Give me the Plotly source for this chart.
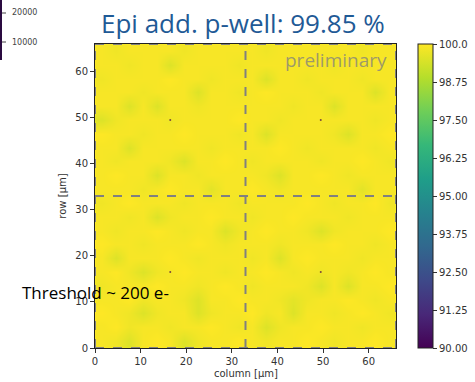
import plotly.graph_objects as go

# ---------------- data ----------------
pitch = 3.0
n_cols = 22
n_rows = 22
col_centers = [pitch / 2 + pitch * j for j in range(n_cols)]
row_centers = [pitch / 2 + pitch * i for i in range(n_rows)]

# efficiency [%], rows listed bottom (row 0) to top
efficiency = [
    [99.9,99.8,99.5,99.9,100.0,99.9,99.5,99.8,99.9,99.9,100.0,99.9,99.8,99.9,99.9,100.0,99.9,99.8,99.9,99.9,100.0,99.9],
    [99.9,100.0,99.8,99.9,99.9,99.8,99.9,99.9,100.0,99.9,99.8,99.9,99.5,99.8,99.9,99.9,100.0,99.9,99.9,99.8,99.9,99.9],
    [100.0,99.9,99.8,99.5,99.8,99.9,99.9,99.5,99.8,99.9,99.9,100.0,99.8,99.9,99.5,99.9,99.9,99.8,99.9,100.0,99.9,99.8],
    [99.9,99.9,100.0,99.8,99.9,99.9,99.8,99.5,99.9,99.9,100.0,99.9,99.9,99.8,99.6,99.8,99.9,99.9,100.0,99.9,99.8,99.9],
    [99.8,99.9,99.9,99.9,100.0,99.9,99.9,99.8,99.9,100.0,99.9,99.8,99.9,99.9,99.9,99.8,99.5,99.9,99.5,99.9,99.9,100.0],
    [99.9,100.0,99.8,99.5,99.8,99.9,100.0,99.9,99.9,99.8,99.9,99.9,100.0,99.9,99.8,99.9,99.8,99.9,99.8,99.9,100.0,99.9],
    [99.9,99.5,99.9,99.9,99.9,100.0,99.9,99.8,99.9,99.9,99.9,99.8,99.9,99.5,99.9,100.0,99.9,99.9,99.9,99.8,99.9,99.9],
    [100.0,99.9,99.9,99.8,99.9,99.9,99.9,100.0,99.9,99.8,99.9,99.9,99.9,99.8,99.9,99.9,99.9,100.0,99.9,99.9,99.8,99.9],
    [99.9,99.8,99.9,99.9,100.0,99.9,99.8,99.9,99.9,99.5,99.8,99.9,100.0,99.9,99.9,99.8,99.5,99.8,99.9,99.9,99.9,100.0],
    [99.9,99.9,99.8,99.9,99.5,99.8,99.9,99.9,100.0,99.9,99.9,99.8,99.9,99.9,100.0,99.9,99.9,99.9,99.8,99.9,99.9,99.9],
    [99.8,99.9,100.0,99.9,99.9,99.9,99.8,99.9,99.9,99.9,99.8,99.9,99.9,99.9,99.9,100.0,99.9,99.8,99.9,99.9,100.0,99.8],
    [99.9,99.9,99.9,99.8,99.9,100.0,99.9,99.9,99.6,99.9,99.9,100.0,99.9,99.8,99.9,99.9,99.9,99.9,99.9,99.6,99.9,99.9],
    [99.9,100.0,99.9,99.9,99.5,99.9,99.9,99.8,99.9,99.9,99.9,99.9,99.8,99.5,99.9,99.9,100.0,99.9,99.8,99.9,99.9,99.9],
    [99.9,99.8,99.9,99.9,99.9,99.8,99.5,99.9,99.9,100.0,99.9,99.8,99.9,99.9,99.9,99.9,99.8,99.9,99.9,100.0,99.9,99.8],
    [99.9,99.9,99.5,99.9,99.9,99.9,99.9,99.9,99.8,99.9,99.9,99.9,99.9,100.0,99.9,99.8,99.9,99.9,99.9,99.9,99.8,99.9],
    [100.0,99.9,99.9,99.8,99.9,99.9,100.0,99.9,99.9,99.9,99.8,99.9,99.5,99.9,99.9,99.9,99.9,99.8,99.5,99.9,99.9,100.0],
    [99.5,99.8,99.9,99.9,99.9,99.8,99.9,99.9,99.9,99.9,100.0,99.9,99.9,99.8,99.9,99.9,99.9,99.9,99.9,99.9,99.8,99.9],
    [99.9,99.9,99.5,99.9,99.5,99.9,99.9,99.8,99.9,99.9,99.9,99.9,99.9,99.9,99.8,99.9,99.9,99.5,99.9,99.9,99.9,99.9],
    [99.9,99.9,99.9,99.8,99.9,99.9,99.9,99.5,99.9,99.9,99.8,99.9,100.0,99.9,99.9,99.9,99.8,99.9,99.9,99.9,99.5,99.9],
    [99.8,99.9,99.9,99.9,99.9,100.0,99.9,99.9,99.8,99.9,99.9,99.9,99.5,99.9,99.9,99.8,99.9,99.9,99.9,99.8,99.9,99.9],
    [99.9,99.9,99.8,99.9,99.9,99.5,99.9,99.9,99.9,99.9,99.8,99.9,99.9,99.9,99.9,99.9,99.9,99.8,99.9,99.9,99.9,99.9],
    [99.9,99.8,99.9,99.9,99.9,99.9,99.8,99.9,99.9,99.9,99.9,99.9,99.8,99.9,99.9,99.9,99.9,99.9,99.9,99.8,99.9,99.9],
]

matrix_extent = [0, 66]
sector_edges = [0, 33, 66]
marker_x = [16.5, 49.5, 16.5, 49.5]
marker_y = [49.5, 49.5, 16.5, 16.5]

x_ticks = [0, 10, 20, 30, 40, 50, 60]
y_ticks = [0, 10, 20, 30, 40, 50, 60]
cbar_ticks = [90.0, 91.25, 92.5, 93.75, 95.0, 96.25, 97.5, 98.75, 100.0]
cbar_labels = ["90.00", "91.25", "92.50", "93.75", "95.00", "96.25", "97.50", "98.75", "100.0"]

title_text = "Epi add. p-well: 99.85 %"
threshold_text = "Threshold ~ 200 e-"

# ---------------- layout helpers ----------------
W, H = 475, 382
L, R, T, B = 95, 79, 44, 34
PW, PH = W - L - R, H - T - B


def px(xp):
    return (xp - L) / PW


def py(yp):
    return (H - B - yp) / PH


tick_font = dict(family="DejaVu Sans", size=10, color="#333333")

fig = go.Figure()
fig.add_trace(go.Heatmap(
    x=col_centers, y=row_centers, z=efficiency,
    zmin=90, zmax=100, zsmooth="best",
    colorscale="Viridis",
    colorbar=dict(
        x=px(418), xanchor="left", xpad=0, ypad=0,
        y=0.5, yanchor="middle",
        len=1, lenmode="fraction", thickness=15,
        outlinewidth=1, outlinecolor="#222222",
        ticks="outside", ticklen=4, tickcolor="#333333",
        tickvals=cbar_ticks, ticktext=cbar_labels,
        tickfont=tick_font,
    ),
    hoverinfo="skip",
))
fig.add_trace(go.Scatter(
    x=marker_x, y=marker_y, mode="markers",
    marker=dict(size=2, color="#7a4a3a"), hoverinfo="skip", showlegend=False,
))

for v in sector_edges:
    fig.add_vline(x=v, line=dict(color="#808080", width=2, dash="dash"))
    fig.add_hline(y=v, line=dict(color="#808080", width=2, dash="dash"))

fig.update_xaxes(
    range=matrix_extent, tickvals=x_ticks, ticks="outside", ticklen=4,
    tickcolor="#333333", tickfont=tick_font, showgrid=False, zeroline=False,
    showline=True, linecolor="#222222", linewidth=1, mirror=True,
    automargin=False,
)
fig.update_yaxes(
    range=matrix_extent, tickvals=y_ticks, ticks="outside", ticklen=4,
    tickcolor="#333333", tickfont=tick_font, showgrid=False, zeroline=False,
    showline=True, linecolor="#222222", linewidth=1, mirror=True,
    automargin=False,
    title=dict(text="row [µm]", font=tick_font, standoff=6),
)

annotations = [
    dict(x=px(243), y=py(23), xref="paper", yref="paper", text=title_text,
         showarrow=False, xanchor="center", yanchor="middle",
         font=dict(family="Open Sans", size=26, color="#1f5a96")),
    dict(x=px(389), y=py(60), xref="paper", yref="paper", text="preliminary",
         showarrow=False, xanchor="right", yanchor="middle",
         font=dict(family="Open Sans", size=19, color="rgba(128,128,128,0.75)")),
    dict(x=px(20), y=py(292), xref="paper", yref="paper", text=threshold_text,
         showarrow=False, xanchor="left", yanchor="middle",
         font=dict(family="Open Sans", size=17, color="#000000")),
    dict(x=0.5, y=py(373), xref="paper", yref="paper", text="column [µm]",
         showarrow=False, xanchor="center", yanchor="middle", font=tick_font),
    dict(x=px(10), y=py(13), xref="paper", yref="paper", text="20000",
         showarrow=False, xanchor="left", yanchor="middle",
         font=dict(family="DejaVu Sans", size=8, color="#444444")),
    dict(x=px(10), y=py(42), xref="paper", yref="paper", text="10000",
         showarrow=False, xanchor="left", yanchor="middle",
         font=dict(family="DejaVu Sans", size=8, color="#444444")),
]

shapes = [
    dict(type="rect", xref="paper", yref="paper", x0=px(0), x1=px(2), y0=py(60), y1=py(0),
         fillcolor="#2a0a40", line=dict(width=0), layer="above"),
    dict(type="line", xref="paper", yref="paper", x0=px(2), x1=px(6), y0=py(13), y1=py(13),
         line=dict(color="#444444", width=1)),
    dict(type="line", xref="paper", yref="paper", x0=px(2), x1=px(6), y0=py(42), y1=py(42),
         line=dict(color="#444444", width=1)),
]

fig.update_layout(
    width=W, height=H,
    margin=dict(l=L, r=R, t=T, b=B, autoexpand=False),
    paper_bgcolor="white", plot_bgcolor="white",
    showlegend=False,
    annotations=annotations,
)
for s in shapes:
    fig.add_shape(**s)

fig.write_html(
    "out.html",
    config={"displayModeBar": False, "staticPlot": True},
    post_script="document.body.style.margin='0';document.body.style.overflow='hidden';",
)
